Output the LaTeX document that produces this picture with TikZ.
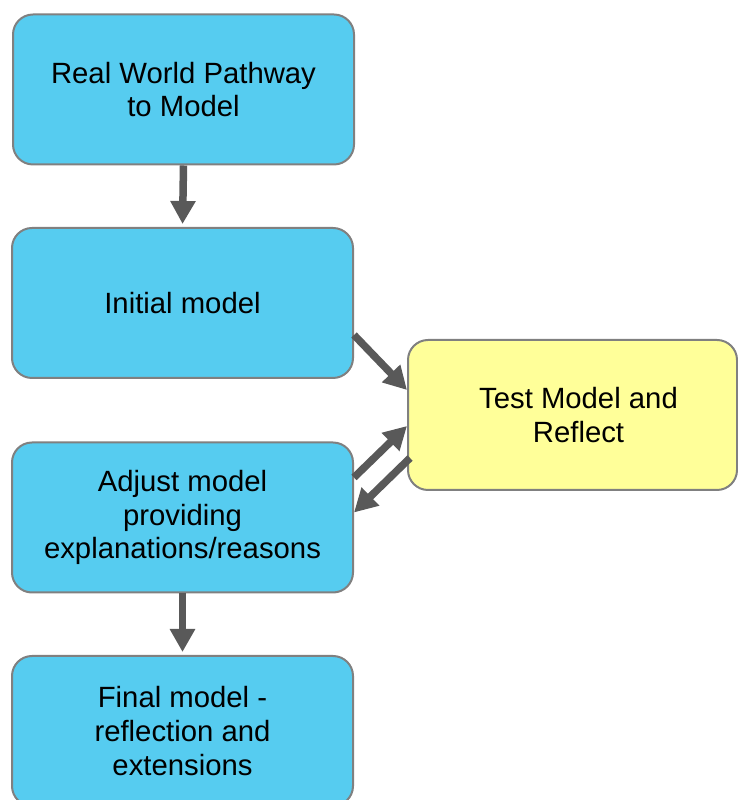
\documentclass[tikz,border=0pt]{standalone}
\usepackage{fontspec}
\setmainfont{Liberation Sans}
\usetikzlibrary{arrows.meta}
\definecolor{boxblue}{RGB}{86,204,240}
\definecolor{boxyellow}{RGB}{255,255,153}
\definecolor{boxedge}{RGB}{128,128,128}
\definecolor{arrgray}{RGB}{89,89,89}
\tikzset{
  stepbox/.style={draw=boxedge, line width=2pt, rounded corners=20pt, fill=boxblue,
    minimum width=341pt, minimum height=150pt, align=center, inner sep=0pt,
    font=\fontsize{29.3}{33.8}\selectfont},
  testbox/.style={stepbox, fill=boxyellow, minimum width=329pt},
  arr/.style={draw=arrgray, line width=7.5pt,
    -{Triangle[length=23pt,width=24pt]}}
}
\begin{document}
\begin{tikzpicture}[x=1pt,y=1pt]
\useasboundingbox (0,0) rectangle (738,800);
\node[stepbox] (b1) at (183.5,710.5) {Real World Pathway\\to Model};
\node[stepbox] (b2) at (182.5,497) {Initial model};
\node[testbox] (b3) at (572.5,385) {\hspace*{12pt}Test Model and\\\hspace*{12pt}Reflect};
\node[stepbox] (b4) at (182.5,282.5) {Adjust model\\providing\\explanations/reasons};
\node[stepbox] (b5) at (182.5,69) {Final model -\\reflection and\\extensions};
\draw[arr, shorten >=3pt] (b1.south) -- (b2.north);
\draw[arr, shorten >=3pt] (b4.south) -- (b5.north);
\draw[arr] ([yshift=-32pt]b2.east) -- ([yshift=25pt]b3.west);
\draw[arr] ([yshift=40pt]b4.east) -- ([yshift=-11pt]b3.west);
\draw[arr] ([xshift=3pt,yshift=-43pt]b3.west) -- ([yshift=5pt]b4.east);
\end{tikzpicture}
\end{document}
